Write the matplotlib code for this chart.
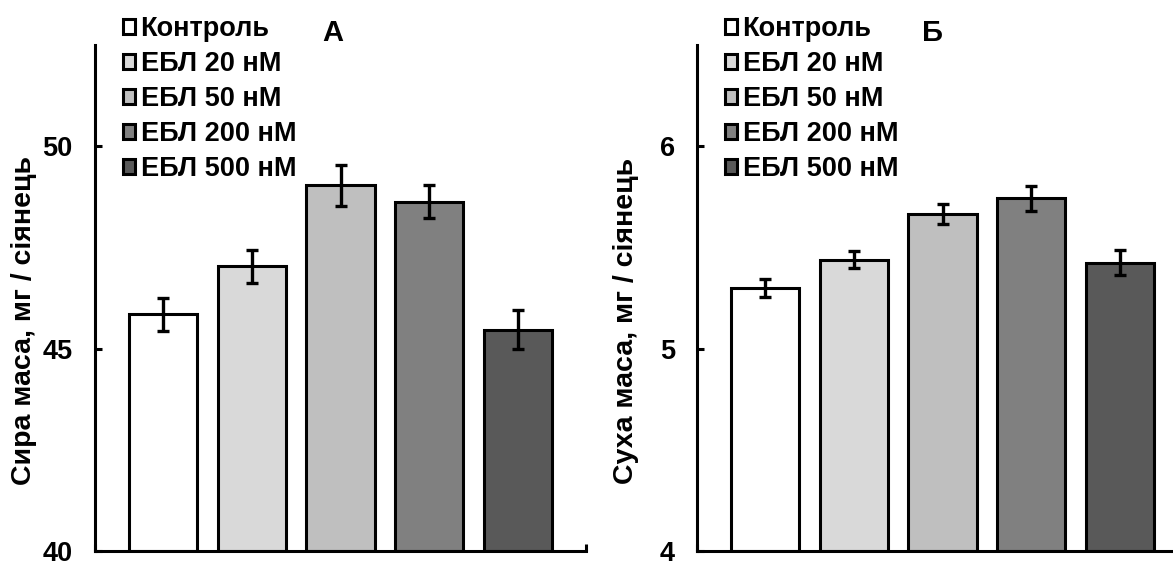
import matplotlib
matplotlib.use("Agg")
import matplotlib.pyplot as plt
import numpy as np

plt.rcParams["font.family"] = ["Liberation Sans", "DejaVu Sans"]
plt.rcParams["font.weight"] = "bold"

# data
groups = ["Контроль", "ЕБЛ 20 нМ", "ЕБЛ 50 нМ", "ЕБЛ 200 нМ", "ЕБЛ 500 нМ"]
fresh_mass = [45.85, 47.03, 49.03, 48.63, 45.47]
fresh_err = [0.41, 0.41, 0.50, 0.41, 0.49]
dry_mass = [5.30, 5.44, 5.667, 5.742, 5.425]
dry_err = [0.043, 0.042, 0.049, 0.062, 0.062]

colors = ["#ffffff", "#d9d9d9", "#bfbfbf", "#808080", "#595959"]

W, H = 1173, 561
fig = plt.figure(figsize=(W / 100, H / 100), dpi=100)


def panel(left_px, values, errors, ylim, yticks, ylabel, title, title_x):
    ax = fig.add_axes([left_px / W, (H - 551) / H, 491 / W, 506 / H])
    x = np.arange(len(values))
    for i in range(len(values)):
        ax.bar(x[i], values[i] - ylim[0], bottom=ylim[0], width=0.773,
               color=colors[i], edgecolor="black", linewidth=2.2,
               label=groups[i], zorder=2)
    ax.errorbar(x, values, yerr=errors, fmt="none", ecolor="black",
                elinewidth=2.4, capsize=4.5, capthick=2.4, zorder=3)
    ax.set_xlim(-0.77, len(values) - 1 + 0.77)
    ax.set_ylim(*ylim)
    ax.set_yticks(yticks)
    # small end marks of the category axis
    ax.set_xticks([-0.77, len(values) - 1 + 0.77])
    ax.set_xticklabels([])
    ax.tick_params(axis="both", direction="in", width=2.2, length=5,
                   labelsize=19.5, pad=16)
    for s in ["top", "right"]:
        ax.spines[s].set_visible(False)
    for s in ["left", "bottom"]:
        ax.spines[s].set_linewidth(2.2)
    ax.set_ylabel(ylabel, fontsize=20.5, fontweight="bold")
    ax.yaxis.set_label_coords(-0.118, 0.455)
    ax.text(title_x, 1.024, title, transform=ax.transAxes, ha="center",
            va="center", fontsize=21, fontweight="bold")
    ax.legend(loc="upper left", bbox_to_anchor=(0.057, 1.057), frameon=False,
              borderpad=0, borderaxespad=0, handlelength=0.45,
              handleheight=0.45, handletextpad=0.2, labelspacing=0.33,
              prop={"size": 19.5, "weight": "bold"})
    return ax


panel(95, fresh_mass, fresh_err, (40, 52.5), [40, 45, 50],
      "Сира маса, мг / сіянець", "А", 0.485)
panel(697, dry_mass, dry_err, (4, 6.5), [4, 5, 6],
      "Суха маса, мг / сіянець", "Б", 0.48)

fig.savefig("out.png", dpi=100)
